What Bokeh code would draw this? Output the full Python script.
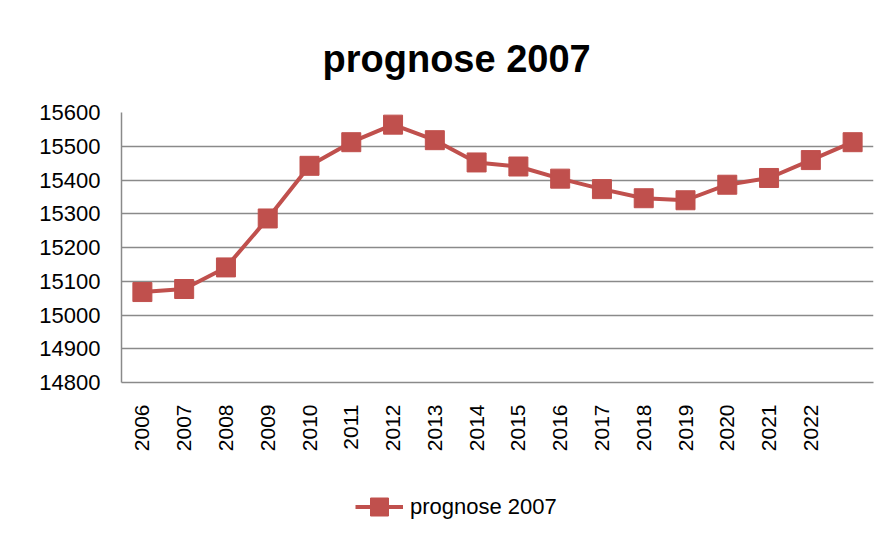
import math
from bokeh.plotting import figure
from bokeh.layouts import column
from bokeh.models import Range1d, FixedTicker, Legend, LegendItem
from bokeh.embed import file_html
from bokeh.resources import INLINE

# ---- data ----
years = [2006, 2007, 2008, 2009, 2010, 2011, 2012, 2013, 2014, 2015,
         2016, 2017, 2018, 2019, 2020, 2021, 2022, 2023]
values = [15068, 15077, 15141, 15286, 15442, 15512, 15564, 15518, 15452, 15440,
          15404, 15373, 15346, 15340, 15386, 15406, 15459, 15512]
x_tick_labels = ["2006", "2007", "2008", "2009", "2010", "2011", "2012", "2013", "2014",
                 "2015", "2016", "2017", "2018", "2019", "2020", "2021", "2022"]
y_ticks = [14800, 14900, 15000, 15100, 15200, 15300, 15400, 15500, 15600]
series_name = "prognose 2007"
title_text = "prognose 2007"

RED = "#C0504D"
GRID = "#8a8a8a"
FONT = "Liberation Sans"

xs = [i + 0.5 for i in range(len(years))]
tick_pos = [i + 0.5 for i in range(len(x_tick_labels))]

p = figure(width=890, height=460, output_backend="svg", toolbar_location=None,
           x_range=Range1d(0, len(years)), y_range=Range1d(y_ticks[0], y_ticks[-1]),
           min_border_left=121, min_border_right=17, min_border_top=112,
           min_border_bottom=78, title=title_text)

p.title.align = "left"
p.title.offset = 201
p.title.text_font = FONT
p.title.text_font_size = "38px"
p.title.text_font_style = "bold"
p.title.text_color = "black"
p.title.standoff = 66

p.outline_line_color = None
p.background_fill_color = "white"
p.border_fill_color = "white"

p.xgrid.grid_line_color = None
p.ygrid.grid_line_color = GRID
p.ygrid.grid_line_width = 1.5

p.yaxis.ticker = FixedTicker(ticks=y_ticks)
p.xaxis.ticker = FixedTicker(ticks=tick_pos)
p.xaxis.major_label_overrides = {t: lab for t, lab in zip(tick_pos, x_tick_labels)}
p.xaxis.major_label_orientation = math.pi / 2

for ax in (p.xaxis, p.yaxis):
    ax.axis_line_color = GRID
    ax.axis_line_width = 1.5
    ax.major_tick_line_color = None
    ax.minor_tick_line_color = None
    ax.major_tick_out = 0
    ax.major_tick_in = 0
    ax.major_label_text_font = FONT
    ax.major_label_text_font_size = "21px"
    ax.major_label_text_color = "black"

p.yaxis.major_label_text_font_size = "22px"
p.xaxis.major_label_standoff = 22
p.yaxis.major_label_standoff = 21

p.line(xs, values, line_color=RED, line_width=4)
p.scatter(xs, values, marker="square", size=19, fill_color=RED, line_color=RED)

# legend strip below the chart (same series, drawn out of view so only its key shows)
q = figure(width=890, height=77, output_backend="svg", toolbar_location=None,
           x_range=Range1d(-100, -99), y_range=Range1d(0, 1),
           x_axis_type=None, y_axis_type=None, min_border=0)
q.outline_line_color = None
q.xgrid.grid_line_color = None
q.ygrid.grid_line_color = None
q.background_fill_color = "white"
q.border_fill_color = "white"
lr = q.line(xs, values, line_color=RED, line_width=4)
lp = q.scatter(xs, values, marker="square", size=18, fill_color=RED, line_color=RED)

legend = Legend(items=[LegendItem(label=series_name, renderers=[lr, lp])],
                location=(234, 8), orientation="horizontal")
legend.border_line_color = None
legend.background_fill_alpha = 0
legend.label_text_font = FONT
legend.label_text_font_size = "22px"
legend.label_text_color = "black"
legend.glyph_width = 48
legend.glyph_height = 45
legend.label_standoff = 7
legend.padding = 0
legend.margin = 0
q.add_layout(legend, "center")

layout = column(p, q, spacing=0)

open("out.html", "w").write(file_html(layout, INLINE))
